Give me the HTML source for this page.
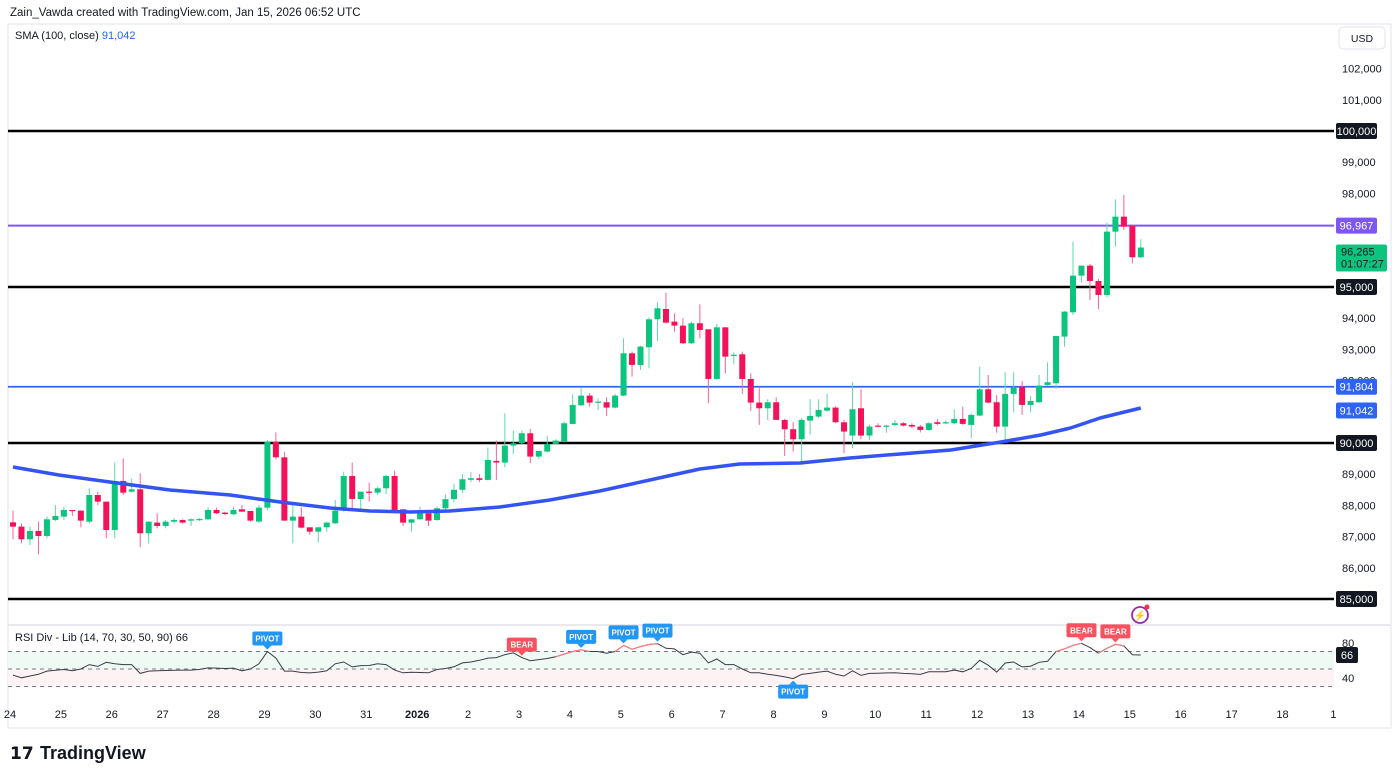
<!DOCTYPE html>
<html><head><meta charset="utf-8">
<style>
html,body{margin:0;padding:0;background:#fff;width:1400px;height:778px;overflow:hidden;font-family:"Liberation Sans",sans-serif;}
svg text{font-family:"Liberation Sans",sans-serif;}
</style></head>
<body>
<svg id="chart" width="1400" height="778" viewBox="0 0 1400 778" xmlns="http://www.w3.org/2000/svg">
  <rect x="0" y="0" width="1400" height="778" fill="#ffffff"/>
  <text x="10" y="16" font-size="11.5" fill="#131722">Zain_Vawda created with TradingView.com, Jan 15, 2026 06:52 UTC</text>
  <line x1="8" y1="24" x2="1391" y2="24" stroke="#e0e3eb"/>
  <line x1="8" y1="24" x2="8" y2="728" stroke="#e0e3eb"/>
  <line x1="1391" y1="24" x2="1391" y2="728" stroke="#e0e3eb"/>
  <line x1="8" y1="625" x2="1391" y2="625" stroke="#e0e3eb" stroke-width="1.5"/>
  <line x1="8" y1="728" x2="1391" y2="728" stroke="#e0e3eb"/>
  <text x="15" y="39" font-size="11" fill="#131722">SMA (100, close) <tspan fill="#2962ff">91,042</tspan></text>
  <g>
    <rect x="1339" y="27" width="46" height="22" rx="4" fill="#fff" stroke="#e0e3eb"/>
    <text x="1362" y="42" font-size="10.5" text-anchor="middle" fill="#131722">USD</text>
  </g>
  <g id="price-axis"></g>
  <g id="levels"></g>
  <g id="candles"></g>
  <g id="sma"></g>
  <g id="labels"></g>
  <g id="rsi"></g>
  <g id="dates"></g>
  <g>
    <circle cx="1140" cy="615" r="8" fill="none" stroke="#9c27b0" stroke-width="1.8"/>
    <text x="1140" y="619" font-size="10" text-anchor="middle" fill="#9c27b0">⚡</text>
    <circle cx="1147" cy="607" r="2.5" fill="#f23645"/>
  </g>
  <g>
    <text x="10" y="759" font-size="17" font-weight="bold" fill="#131722">𝟭𝟳</text>
    <text x="40" y="759" font-size="18" font-weight="bold" fill="#131722">TradingView</text>
  </g>
</svg>
<script>
const opens=[87458,87319,86914,87181,87020,87533,87640,87853,87832,87480,88334,88120,87212,88783,88441,88516,87106,87448,87341,87480,87533,87512,87533,87554,87853,87768,87715,87875,87821,87480,87928,90043,89541,87512,87640,87298,87159,87298,87426,87832,88943,88206,88441,88409,88548,88943,87875,87448,87554,87746,87533,87907,88200,88500,88820,88870,88817,89426,89372,89917,89992,90312,89564,89725,89970,90045,90611,91209,91519,91295,91306,91135,91519,92875,92502,93068,93965,94296,93890,93762,93196,93837,93644,92053,93708,92790,92843,92053,91295,91113,91306,90740,90441,90120,90718,90847,91038,91135,90665,90238,91113,90238,90558,90526,90579,90633,90579,90526,90419,90665,90633,90633,90772,90579,90879,91722,91306,90526,91573,91808,91220,91306,91861,91915,93410,94189,95364,95685,95193,94745,96774,97255,96956,95952];
const highs=[87832,87426,87319,87480,87640,88013,87960,87853,87832,88548,88441,88120,89381,89509,88868,89028,87480,87746,87533,87587,87554,87587,87587,87939,87928,87800,87960,88013,87821,88013,90096,90342,89722,88120,87939,87298,87319,87480,88174,89082,89370,88441,88729,88600,88980,89114,87875,87554,87960,87746,87960,88350,88700,89000,89063,88999,89853,90077,90953,90398,90398,90451,89746,90227,90120,90690,91562,91754,91600,91434,91460,91570,93356,92930,93120,94030,94509,94819,94157,93997,93890,94445,93644,93815,93708,92900,92929,92235,91754,91400,91460,90772,90665,90800,91402,91402,91573,91170,90740,91947,91722,90580,90630,90580,90740,90665,90633,90580,90665,90770,90720,91082,91167,90950,92449,92182,91541,92267,92267,91989,91510,92182,92588,93431,94232,96454,95685,95738,95258,97062,97810,97949,96956,96528];
const lows=[86914,86785,86732,86433,86946,87500,87533,87661,87298,87426,88013,86946,86946,88334,88409,86657,86785,87266,87266,87420,87420,87340,87500,87533,87725,87680,87690,87780,87480,87448,87853,89477,87512,86785,87260,87053,86807,87159,87400,87800,87907,87853,88120,88330,88366,87746,87341,87159,87540,87341,87500,87850,88100,88400,88750,88750,88800,88817,89223,89650,89970,89351,89480,89700,89950,90020,90590,91180,91167,91060,90868,91110,91500,92128,92341,92395,93271,93830,93570,93170,93170,93356,91273,92030,92235,92520,91573,91028,90579,90739,90740,89586,89725,89298,90259,90800,91000,90640,89672,89832,90120,90100,90500,90330,90530,90530,90480,90340,90390,90570,90600,90600,90580,90152,90860,91270,90330,90077,90985,90900,90985,91290,91830,91733,93089,94104,95140,94585,94285,94670,96293,96827,95759,95930];
const closes=[87319,86914,87181,87020,87554,87661,87853,87832,87512,88334,88120,87212,88783,88409,88516,87106,87480,87341,87480,87533,87448,87554,87565,87853,87746,87725,87853,87800,87512,87928,90043,89541,87512,87640,87287,87159,87298,87448,87832,88943,88206,88441,88409,88548,88943,87853,87448,87554,87746,87512,87907,88200,88500,88838,88870,88817,89458,89372,89917,89992,90312,89564,89746,89970,90077,90633,91220,91519,91295,91327,91135,91519,92875,92502,93089,93965,94317,93858,93762,93196,93837,93623,92053,93708,92769,92830,92053,91295,91113,91306,90740,90441,90120,90740,90868,91060,91135,90665,90366,91082,90238,90526,90526,90558,90633,90558,90526,90419,90633,90612,90665,90772,90612,90900,91722,91295,90526,91573,91787,91220,91349,91840,91947,93431,94211,95364,95685,95193,94745,96774,97255,96934,95952,96265];
const smaIdx=[0,5.4,11.4,18.5,25.6,31.5,37.4,42.1,46.8,51.5,57.4,63.3,69.2,75.1,81,85.7,92.8,98.7,104.6,110.6,116.5,121.2,124.7,128.2,133];
const smaValues=[89231,88975,88750,88494,88334,88109,87917,87821,87789,87821,87949,88174,88462,88815,89167,89327,89359,89520,89648,89776,90032,90256,90481,90801,91122];
const rsiValues=[43,40,42,44,47.6,48.5,49.4,48,50,55,53,57.7,56,55,55,45,47.6,48,48.3,48.5,48.7,48.7,49.5,51.3,51,50.6,51,48,50,56,70,62.5,47.6,47.6,46,45.5,46.4,48,56,58,52.4,53.9,54,56,55,48.7,45.7,46.2,46,45.7,49.4,50.6,52.5,57,58,60,62.5,63,66.3,68.5,63,59.5,60.7,62,64,67,70,71.9,70,70,68.1,70,77,72.6,75.6,78,79,73.7,73,66.3,69.3,68.1,57,61.4,55,55,50,45.7,45.7,44,42.7,41,39,43.8,45,46.5,47.6,44,42,48,42.7,45,45.2,45.5,45.7,45,44.5,43.8,46.8,46.8,46.8,48.7,46.8,50.6,59.9,54.3,46.4,56.9,58,52.4,53.2,57.7,58.8,70,73,77,79.4,74.5,68.1,73.7,78.2,76.4,66.3,66];
const rsiRedRanges=[[64,68],[71,76],[123,126],[128,131]];
const rsiSignals=[["PIVOT",30,"up"],["BEAR",60,"up"],["PIVOT",67,"up"],["PIVOT",72,"up"],["PIVOT",76,"up"],["PIVOT",92,"down"],["BEAR",126,"up"],["BEAR",130,"up"]];
const priceTicks=[102000,101000,99000,98000,94000,93000,92000,89000,88000,87000,86000];
const levelPrices=[100000,95000,90000,85000];
const levelLabels=["100,000","95,000","90,000","85,000"];
const dateLabels=["24","25","26","27","28","29","30","31","2026","2","3","4","5","6","7","8","9","10","11","12","13","14","15","16","17","18","1"];
const dateDays=[0,1,2,3,4,5,6,7,8,9,10,11,12,13,14,15,16,17,18,19,20,21,22,23,24,25,26];
const purpleLevel=96967, blueLevel=91804, smaLast=91042, lastPrice=96265;
const NS="http://www.w3.org/2000/svg";
const yP=p=>131+(100000-p)*0.0312;
const xI=i=>13+8.48*i;
const xD=d=>10+50.9*d;
const yR=v=>669-(v-50)*0.875;
function el(tag,attrs,parent,txt){const e=document.createElementNS(NS,tag);for(const k in attrs)e.setAttribute(k,attrs[k]);if(txt!==undefined)e.textContent=txt;parent.appendChild(e);return e;}
const fmt=n=>n.toLocaleString('en-US');
const pa=document.getElementById('price-axis');
priceTicks.forEach(p=>{const t=el('text',{x:1342,y:yP(p)+4,'font-size':11,fill:'#131722'},pa,fmt(p));

});
const lv=document.getElementById('levels');
levelPrices.forEach(p=>{const l=el('line',{x1:8,x2:1334,y1:yP(p),y2:yP(p),stroke:'#000',"stroke-width":2.5},lv);

});
const pl=el('line',{x1:8,x2:1334,y1:yP(purpleLevel),y2:yP(purpleLevel),stroke:'#7e57f2',"stroke-width":2},lv);


const bl=el('line',{x1:8,x2:1334,y1:yP(blueLevel),y2:yP(blueLevel),stroke:'#2f63f5',"stroke-width":1.8},lv);


const cg=document.getElementById('candles');
for(let i=0;i<closes.length;i++){
  const o=opens[i],c=closes[i],h=Math.max(highs[i],o,c),l=Math.min(lows[i],o,c);
  const up=c>=o, col=up?'#0bc47e':'#f5105a', wcol=up?'#5fd9a5':'#f7638f';
  const x=xI(i);
  const w=el('line',{x1:x,x2:x,y1:yP(h),y2:yP(l),stroke:wcol,"stroke-width":1},cg);
  
  
  const top=yP(Math.max(o,c)),bh=Math.max(1.2,yP(Math.min(o,c))-top);
  const b=el('rect',{x:x-3,y:top,width:6,height:bh,fill:col},cg);
  
  
}
const sg=document.getElementById('sma');
const sp=el('path',{d:smaValues.map((v,k)=>(k?'L':'M')+xI(smaIdx[k]).toFixed(1)+' '+yP(v).toFixed(1)).join(' '),fill:'none',stroke:'#3354f0',"stroke-width":3.5,"stroke-linejoin":"round"},sg);


const lb=document.getElementById('labels');
function tag(p,txt,bg,fg,name){const y=yP(p);const g=el('g',{},lb);


el('rect',{x:1336,y:y-8,width:41,height:16,rx:2,fill:bg},g);el('text',{x:1356.5,y:y+4,'font-size':11,fill:fg,'text-anchor':'middle'},g,txt);}
levelPrices.forEach((p,k)=>tag(p,levelLabels[k],'#131722','#fff','level-label'));
tag(purpleLevel,fmt(purpleLevel),'#7e57f2','#fff','resistance-label');
tag(blueLevel,fmt(blueLevel),'#2f63f5','#fff','support-label');
tag(smaLast,fmt(smaLast),'#2f63f5','#fff','sma-label');
(function(){const y=yP(lastPrice)+7;const g=el('g',{},lb);


el('rect',{x:1336,y:y-10,width:51,height:27,rx:2,fill:'#0bc47e'},g);
el('text',{x:1341,y:y+1,'font-size':11,fill:'#131722'},g,fmt(lastPrice));
el('text',{x:1341,y:y+13,'font-size':11,fill:'#131722'},g,'01:07:27');})();
const rg=document.getElementById('rsi');
el('rect',{x:8,y:yR(70),width:1326,height:yR(50)-yR(70),fill:'#effaf5'},rg);
el('rect',{x:8,y:yR(50),width:1326,height:yR(30)-yR(50),fill:'#fdf3f4'},rg);
[70,50,30].forEach(v=>{const d=el('line',{x1:8,x2:1334,y1:yR(v),y2:yR(v),stroke:'#787b86',"stroke-dasharray":"4 4","stroke-width":1},rg);

});
const rt=el('text',{x:15,y:641,'font-size':11,fill:'#131722'},rg,'RSI Div - Lib (14, 70, 30, 50, 90)  66');


[80,40].forEach(v=>{const t=el('text',{x:1342,y:yR(v)+4,'font-size':11,fill:'#131722'},rg,String(v));

});
const rp=el('path',{d:rsiValues.map((v,k)=>(k?'L':'M')+xI(k).toFixed(1)+' '+yR(v).toFixed(1)).join(' '),fill:'none',stroke:'#3a3d45',"stroke-width":1},rg);


rsiRedRanges.forEach(r=>{let d='';for(let k=r[0];k<=r[1];k++)d+=(k===r[0]?'M':'L')+xI(k).toFixed(1)+' '+yR(rsiValues[k]).toFixed(1)+' ';
const s=el('path',{d:d,fill:'none',stroke:'#f77c80',"stroke-width":1.2},rg);

});
const last=rsiValues[rsiValues.length-1];
(function(){const g=el('g',{},rg);


el('rect',{x:1336,y:yR(last)-8,width:22,height:16,rx:2,fill:'#131722'},g);
el('text',{x:1347,y:yR(last)+4,'font-size':11,fill:'#fff','text-anchor':'middle'},g,String(Math.round(last)));})();
rsiSignals.forEach(s=>{const x=xI(s[1]),v=rsiValues[s[1]],col=s[0]==='BEAR'?'#f7525f':'#2196f3';const g=el('g',{},rg);


if(s[2]==='up'){const yb=Math.max(yR(v)-4,632);el('rect',{x:x-15,y:yb-16,width:30,height:14,rx:2,fill:col},g);el('path',{d:`M${x-4} ${yb-2} L${x} ${yb+2} L${x+4} ${yb-2}Z`,fill:col},g);el('text',{x:x,y:yb-6,'font-size':8,'font-weight':'bold',fill:'#fff','text-anchor':'middle'},g,s[0]);}
else{const yt=yR(v)+4;el('rect',{x:x-15,y:yt+2,width:30,height:14,rx:2,fill:col},g);el('path',{d:`M${x-4} ${yt+2} L${x} ${yt-2} L${x+4} ${yt+2}Z`,fill:col},g);el('text',{x:x,y:yt+12,'font-size':8,'font-weight':'bold',fill:'#fff','text-anchor':'middle'},g,s[0]);}
});
const dg=document.getElementById('dates');
dateLabels.forEach((t,k)=>{const e=el('text',{x:xD(dateDays[k]),y:718,'font-size':11,fill:'#131722','text-anchor':'middle','font-weight':t==='2026'?'bold':'normal'},dg,t);

});
</script>
</body></html>
